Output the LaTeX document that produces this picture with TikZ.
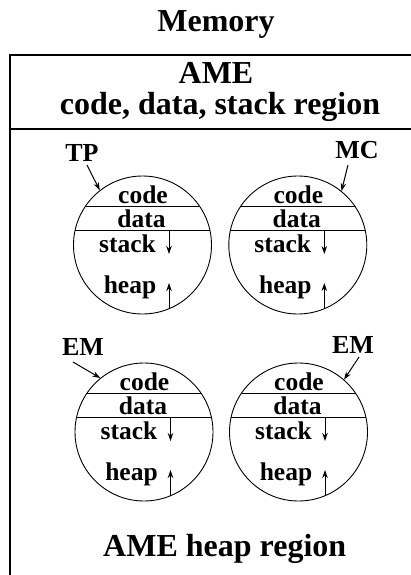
\documentclass[tikz,border=0pt]{standalone}
\usepackage{fontspec}
\setmainfont{Liberation Serif}
\usetikzlibrary{arrows.meta,calc}
\tikzset{
  big/.style={font=\fontsize{32}{34}\selectfont\bfseries, inner sep=0pt, anchor=base},
  lab/.style={font=\fontsize{26}{28}\selectfont\bfseries, inner sep=0pt},
  seg/.style={font=\fontsize{25.5}{27}\selectfont\bfseries, inner sep=0pt},
  proc/.style={circle, draw, line width=0.9pt, minimum size=138pt, inner sep=0pt},
  frame/.style={line width=1.2pt},
  chord/.style={line width=0.9pt},
  arr/.style={line width=1pt, -{Stealth[length=8pt,width=5.5pt]}},
}
\newcommand{\procmem}[3]{%
  \node[proc] (#1) at (#2,#3) {};
  \draw[chord] ($(#1)+(-56.9,-39)$) -- ($(#1)+(56.9,-39)$);
  \draw[chord] ($(#1)+(-67.35,-15)$) -- ($(#1)+(67.35,-15)$);
  \node[seg] (#1code) at ($(#1)+(0.5,-50)$) {code};
  \node[seg] (#1data) at ($(#1)+(-1,-26)$) {data};
  \node[seg] (#1stack) at ($(#1)+(-15,-1)$) {stack};
  \node[seg] (#1heap) at ($(#1)+(-12.5,42)$) {heap};
  \coordinate (#1sa) at ($(#1)+(26.5,-15)$);
  \coordinate (#1sb) at ($(#1)+(26.5,9)$);
  \coordinate (#1ha) at ($(#1)+(26.5,63.7)$);
  \coordinate (#1hb) at ($(#1)+(26.5,38)$);
  \draw[arr] (#1sa) -- (#1sb);
  \draw[arr] (#1ha) -- (#1hb);
}
\begin{document}
\begin{tikzpicture}[x=1pt,y=-1pt]
\useasboundingbox (0,0) rectangle (411,575);
\node[big] (mem) at (216,32) {Memory};
\draw[frame] (10,575) coordinate (fbl) -- (10,55) coordinate (ftl) -- (411,55) coordinate (ftr);
\draw[frame] (10,129) coordinate (sl) -- (411,129) coordinate (sr);
\node[big] (ame) at (216,84) {AME};
\node[big] (ameregion) at (220,115) {code, data, stack region};
\node[big] (heapreg) at (224.7,556) {AME heap region};
\procmem{c1}{142.5}{245}
\procmem{c2}{297.8}{245}
\procmem{c3}{144}{432}
\procmem{c4}{298.5}{432}
\node[lab] (tp) at (82,153) {TP};
\node[lab] (mc) at (357,150) {MC};
\node[lab] (em1) at (83,347) {EM};
\node[lab] (em2) at (353,345) {EM};
\coordinate (tps) at (87,165);
\coordinate (mcs) at (348,165);
\coordinate (em1s) at (73,362);
\coordinate (em2s) at (359,357);
\draw[arr] (tps) -- (c1.128.5);
\draw[arr] (mcs) -- (c2.51.3);
\draw[arr] (em1s) -- (c3.129.5);
\draw[arr] (em2s) -- (c4.49);
\end{tikzpicture}
\end{document}
